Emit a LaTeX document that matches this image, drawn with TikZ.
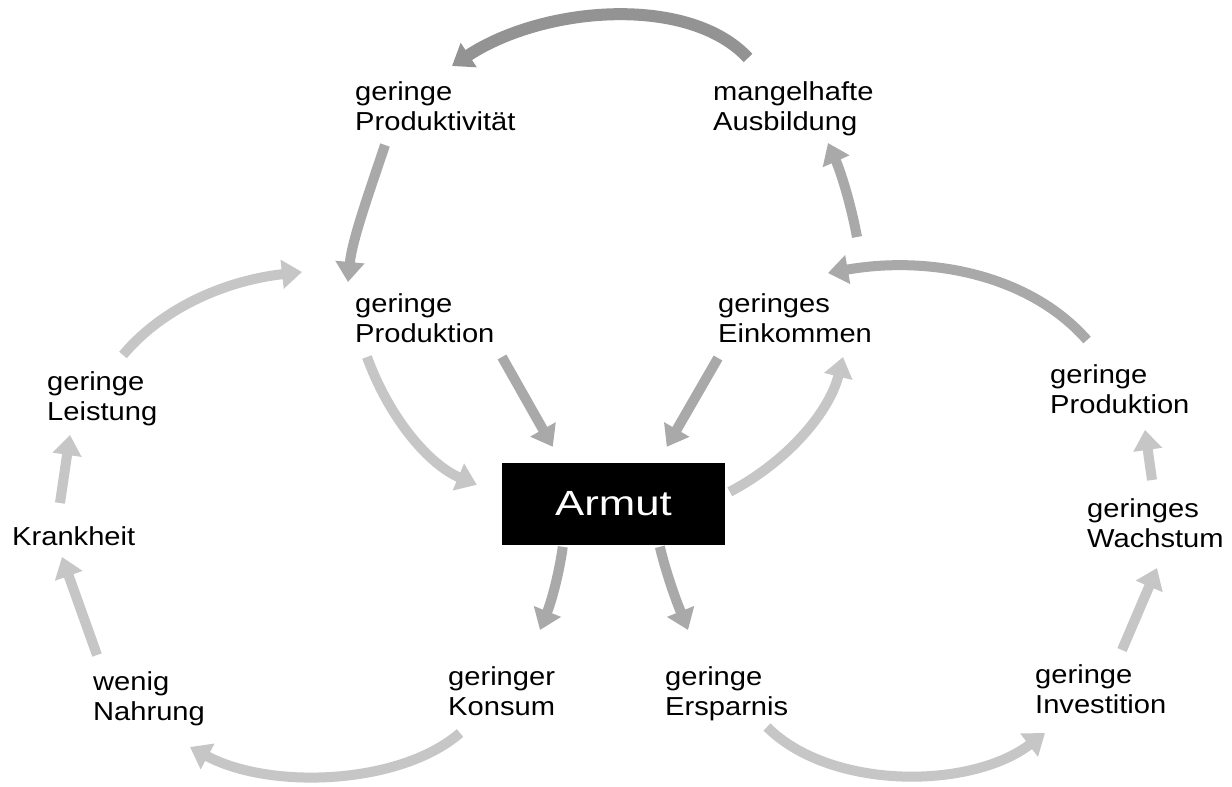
\documentclass[tikz,border=0pt]{standalone}
\usepackage{fontspec}
\setmainfont{Liberation Sans}[FakeStretch=1.12]
\newfontfamily\armutfont{Liberation Sans}[FakeStretch=1.25]
\usetikzlibrary{arrows.meta,calc}
\definecolor{darkarrow}{HTML}{939393}
\definecolor{midarrow}{HTML}{A9A9A9}
\definecolor{lightarrow}{HTML}{C6C6C6}
\tikzset{
  lbl/.style={anchor=north west, inner sep=0pt, align=left, font=\fontsize{26}{30}\selectfont},
  flow/.style={line width=10pt, -{Triangle[width=28pt,length=20pt]}},
  boxstyle/.style={fill=black, minimum width=223pt, minimum height=82pt, inner sep=0pt,
    text=white, font=\armutfont\fontsize{35}{40}\selectfont},
}
\begin{document}
\begin{tikzpicture}[x=1pt,y=-1pt]
\useasboundingbox (0,0) rectangle (1232,787);
\fill[white] (0,0) rectangle (1232,787);

% labels
\node[lbl] (pa) at (355,81)  {geringe\\Produktivität};
\node[lbl] (ma) at (713,81)  {mangelhafte\\Ausbildung};
\node[lbl] (pc) at (355,293) {geringe\\Produktion};
\node[lbl] (ek) at (718,293) {geringes\\Einkommen};
\node[lbl] (ls) at (47,371)  {geringe\\Leistung};
\node[lbl] (kr) at (12,526)  {Krankheit};
\node[lbl] (nr) at (93,671)  {wenig\\Nahrung};
\node[lbl] (ko) at (448,666) {geringer\\Konsum};
\node[lbl] (es) at (665,666) {geringe\\Ersparnis};
\node[lbl] (iv) at (1035,664) {geringe\\Investition};
\node[lbl] (wa) at (1087,498) {geringes\\Wachstum};
\node[lbl] (pr) at (1050,364) {geringe\\Produktion};
\node[boxstyle] (ar) at (613.5,504) {Armut};

% top arc: Ausbildung -> Produktivitaet
\draw[flow, darkarrow, line width=12pt]
  ($(ma.north west)+(35,-23)$) .. controls (690,-5) and (545,5) .. ($(pa.north west)+(97,-15)$);
% Produktivitaet -> Produktion
\draw[flow, midarrow]
  ($(pa.north west)+(30,64)$) .. controls (370,190) and (352,240) .. ($(pc.north west)+(-7,-11)$);
% Leistung -> Produktion
\draw[flow, lightarrow]
  ($(ls.north west)+(76,-16)$) .. controls (165,305) and (230,280) .. ($(pc.north west)+(-53,-21)$);
% Produktion -> Armut (curved)
\draw[flow, lightarrow]
  ($(pc.north west)+(12,64)$) .. controls (390,420) and (430,465) .. ($(ar.north west)+(-25,22)$);
% Produktion -> Armut (straight)
\draw[flow, midarrow]
  ($(pc.north west)+(147,64)$) -- ($(ar.north west)+(51,-16)$);
% Einkommen -> Armut
\draw[flow, midarrow]
  ($(ek.north west)+(0,65)$) -- ($(ar.north west)+(165,-16)$);
% Armut -> Einkommen
\draw[flow, lightarrow]
  ($(ar.north west)+(228,29)$) .. controls (790,460) and (830,410) .. ($(ek.north west)+(125,64)$);
% Einkommen -> Ausbildung
\draw[flow, midarrow]
  ($(ek.north west)+(139,-56)$) .. controls (850,200) and (840,170) .. ($(ma.north west)+(115,62)$);
% Produktion (right) -> Einkommen
\draw[flow, midarrow]
  ($(pr.north west)+(37,-24)$) .. controls (1030,275) and (930,255) .. ($(ek.north west)+(110,-20)$);
% Wachstum -> Produktion (right)
\draw[flow, lightarrow]
  ($(wa.north west)+(65,-18)$) -- ($(pr.north west)+(95,66)$);
% Investition -> Wachstum
\draw[flow, lightarrow]
  ($(iv.north west)+(87,-14)$) -- ($(wa.north west)+(70,70)$);
% Ersparnis -> Investition
\draw[flow, lightarrow]
  ($(es.north west)+(102,61)$) .. controls (830,790) and (970,790) .. ($(iv.north west)+(10,69)$);
% Armut -> Ersparnis
\draw[flow, midarrow]
  ($(ar.north west)+(158,84)$) .. controls (668,580) and (678,605) .. ($(es.north west)+(23,-36)$);
% Armut -> Konsum
\draw[flow, midarrow]
  ($(ar.north west)+(61,84)$) .. controls (558,580) and (550,605) .. ($(ko.north west)+(92,-36)$);
% Konsum -> Nahrung
\draw[flow, lightarrow]
  ($(ko.north west)+(12,67)$) .. controls (400,785) and (270,790) .. ($(nr.north west)+(97,76)$);
% Nahrung -> Krankheit
\draw[flow, lightarrow]
  ($(nr.north west)+(4,-16)$) -- ($(kr.north west)+(50,31)$);
% Krankheit -> Leistung
\draw[flow, lightarrow]
  ($(kr.north west)+(48,-23)$) -- ($(ls.north west)+(23,64)$);
\end{tikzpicture}
\end{document}
